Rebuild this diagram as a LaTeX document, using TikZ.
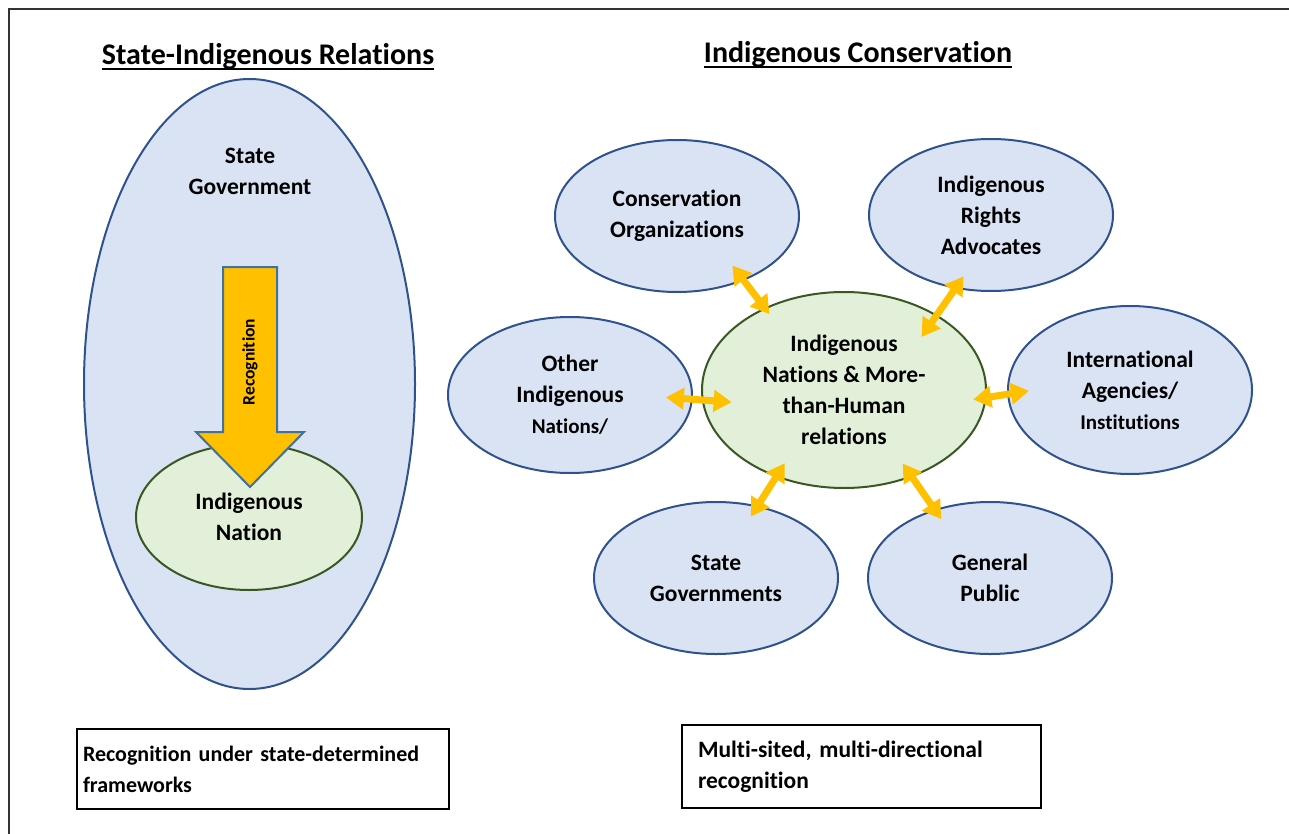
\documentclass[tikz,border=0pt]{standalone}
\usepackage{fontspec}
\setmainfont{Carlito}[Ligatures=NoCommon, Contextuals=NoAlternate, RawFeature={-liga;-clig;-calt}]
\usetikzlibrary{shapes.geometric,arrows.meta}

\definecolor{paleblue}{HTML}{DAE3F3}
\definecolor{darkblue}{HTML}{2F528F}
\definecolor{palegreen}{HTML}{E2F0D9}
\definecolor{darkgreen}{HTML}{385723}
\definecolor{recoggold}{HTML}{FFC000}
\definecolor{arrowedge}{HTML}{41719C}

\tikzset{
  bodyfont/.style={font=\fontsize{23.5}{31}\selectfont\bfseries},
  titlefont/.style={font=\fontsize{30}{36}\selectfont\bfseries, inner xsep=0pt},
  actor/.style={ellipse, draw=darkblue, fill=paleblue, line width=2pt,
    minimum width=244pt, minimum height=152pt, inner sep=0pt, align=center, bodyfont},
  core/.style={ellipse, draw=darkgreen, fill=palegreen, line width=2pt,
    inner sep=0pt, align=center, bodyfont},
  link/.style={{Triangle[width=21pt,length=18pt]}-{Triangle[width=21pt,length=18pt]},
    draw=recoggold, line width=7pt},
  note/.style={draw, line width=2pt, rectangle, align=left, inner xsep=6pt, bodyfont}
}

\begin{document}
\begin{tikzpicture}[x=1pt,y=-1pt]
  \useasboundingbox (0,0) rectangle (1289,834);
  \draw[line width=2pt, black!80] (9,834) -- (9,9) -- (1289,9);

  % state side
  \node[titlefont, anchor=base] (lefttitle) at (268,65) {State-Indigenous Relations};
  \draw[line width=2pt] ([yshift=-4pt]lefttitle.base west) -- ([yshift=-4pt]lefttitle.base east);
  \node[ellipse, draw=darkblue, fill=paleblue, line width=2pt,
        minimum width=331pt, minimum height=610pt] (state) at (249.5,384) {};
  \node[bodyfont, align=center] (statetext) at (250,171) {State\\Government};
  \node[core, minimum width=226pt, minimum height=146pt] (nation) at (249,517) {Indigenous\\Nation};
  \draw[line width=2pt, draw=arrowedge, fill=recoggold]
      (223,267) -- (277,267) -- (277,432) -- (304,432) -- (250,487)
      -- (196,432) -- (223,432) -- cycle;
  \node[rotate=90, font=\fontsize{17.5}{17.5}\selectfont\bfseries] (recog) at (250,362) {Recognition};

  % conservation side
  \node[titlefont, anchor=base] (righttitle) at (858,63) {Indigenous Conservation};
  \draw[line width=2pt] ([yshift=-4pt]righttitle.base west) -- ([yshift=-4pt]righttitle.base east);
  \node[core, minimum width=284pt, minimum height=196pt] (core) at (844,390)
      {Indigenous\\Nations \& More-\\than-Human\\relations};
  \node[actor] (cons) at (677,216) {Conservation\\Organizations};
  \node[actor] (rights) at (991,215) {Indigenous\\Rights\\Advocates};
  \node[actor, minimum height=156pt] (other) at (570,395)
      {Other\\Indigenous\\{\fontsize{21}{31}\selectfont Nations/}};
  \node[actor, minimum height=168pt] (intl) at (1130,390)
      {International\\Agencies/\\{\fontsize{21}{31}\selectfont Institutions}};
  \node[actor] (stategov) at (716,578) {State\\Governments};
  \node[actor] (public) at (990,578) {General\\Public};

  \draw[link, shorten <=-19pt, shorten >=-8pt] (cons.-44.5) -- (core.134.2);
  \draw[link, shorten <=-15pt, shorten >=-27pt] (rights.244.3) -- (core.39.2);
  \draw[link, shorten <=-27pt, shorten >=-30pt] (other.-2.7) -- (core.184.9);
  \draw[link, shorten <=-22pt, shorten >=-13.5pt] (intl.182.4) -- (core.-3.2);
  \draw[link, shorten <=-13pt, shorten >=-16.5pt] (stategov.60.1) -- (core.232.6);
  \draw[link, shorten <=-12pt, shorten >=-16.5pt] (public.129.5) -- (core.-52.4);

  % notes underneath
  \node[note, anchor=north west, text width=360pt, minimum height=80pt,
        font=\fontsize{22}{31}\selectfont\bfseries] (leftnote) at (76,728)
      {Recognition under state-determined\\frameworks};
  \node[note, anchor=north west, inner xsep=16pt, text width=327pt, minimum height=83pt] (rightnote) at (681,724)
      {Multi-sited, multi-directional\\recognition};
\end{tikzpicture}
\end{document}
